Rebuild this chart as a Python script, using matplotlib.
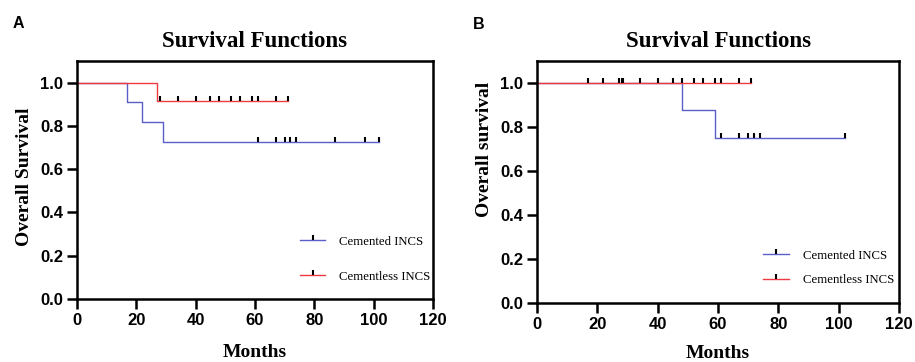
import matplotlib.pyplot as plt
from matplotlib.path import Path
from matplotlib.lines import Line2D

# panel A
a_cem_t = [0, 17, 22, 29, 102]
a_cem_s = [1.0, 0.909, 0.818, 0.727, 0.727]
a_cem_cens = [61, 67, 70, 72, 74, 87, 97, 102]
a_cml_t = [0, 27, 71]
a_cml_s = [1.0, 0.917, 0.917]
a_cml_cens = [28, 34, 40, 45, 48, 52, 55, 59, 61, 67, 71]

# panel B
b_cem_t = [0, 48, 59, 102]
b_cem_s = [1.0, 0.875, 0.75, 0.75]
b_cem_cens = [61, 67, 70, 72, 74, 102]
b_cml_t = [0, 71]
b_cml_s = [1.0, 1.0]
b_cml_cens = [17, 22, 27, 28, 28.5, 34, 40, 45, 48, 52, 55, 59, 61, 67, 71]

blue = '#5a5ec8'
red = '#ee3a40'
tick_mark = Path([(0, 0), (0, 1)])
serif = 'Liberation Serif'

plt.rcParams['font.family'] = 'Liberation Sans'
fig = plt.figure(figsize=(9.15, 3.62), dpi=100)
axA = fig.add_axes([0.0842, 0.174, 0.3888, 0.6575])
axB = fig.add_axes([0.587, 0.163, 0.3955, 0.6685])


def km(ax, t, s, cens, color):
    ax.step(t, s, where='post', color=color, lw=1.0, zorder=2)
    cy = [s[max(i for i in range(len(t)) if t[i] <= c)] for c in cens]
    ax.plot(cens, cy, ls='none', marker=tick_mark, ms=7.5, mew=1.5, color='black', zorder=3)


def style(ax, ylab, ylab_xy, xlab_y, leg_xy, leg_sp):
    ax.set_xlim(0, 120)
    ax.set_ylim(0, 1.1)
    ax.set_xticks(range(0, 121, 20))
    ax.set_yticks([0, 0.2, 0.4, 0.6, 0.8, 1.0])
    ax.set_yticklabels(['0.0', '0.2', '0.4', '0.6', '0.8', '1.0'])
    for sp in ax.spines.values():
        sp.set_linewidth(1.8)
    ax.tick_params(direction='out', length=7, width=1.8, labelsize=12, pad=3)
    for lab in ax.get_xticklabels() + ax.get_yticklabels():
        lab.set_fontweight('bold')
    ax.set_title('Survival Functions', fontfamily=serif, fontweight='bold', fontsize=16.5, pad=10)
    ax.set_xlabel('Months', fontfamily=serif, fontweight='bold', fontsize=14, va='baseline')
    ax.xaxis.set_label_coords(0.5, xlab_y)
    ax.set_ylabel(ylab, fontfamily=serif, fontweight='bold', fontsize=14, va='baseline')
    ax.yaxis.set_label_coords(ylab_xy[0], ylab_xy[1])
    h1 = Line2D([], [], color=blue, lw=1.0, marker=tick_mark, ms=7.5, mew=1.5, mec='black')
    h2 = Line2D([], [], color=red, lw=1.0, marker=tick_mark, ms=7.5, mew=1.5, mec='black')
    ax.legend([h1, h2], ['Cemented INCS', 'Cementless INCS'], loc='center', bbox_to_anchor=leg_xy,
              frameon=False, prop={'family': serif, 'size': 9.2},
              labelspacing=leg_sp, handlelength=2.0, handletextpad=1.1, borderpad=0)


km(axA, a_cem_t, a_cem_s, a_cem_cens, blue)
km(axA, a_cml_t, a_cml_s, a_cml_cens, red)
style(axA, 'Overall Survival', (-0.135, 0.513), -0.244, (0.81, 0.168), 1.8)

km(axB, b_cem_t, b_cem_s, b_cem_cens, blue)
km(axB, b_cml_t, b_cml_s, b_cml_cens, red)
style(axB, 'Overall survival', (-0.133, 0.636), -0.227, (0.805, 0.145), 1.0)

fig.text(0.0139, 0.9227, 'A', fontsize=11.5, fontweight='bold')
fig.text(0.517, 0.92, 'B', fontsize=11.5, fontweight='bold')

fig.savefig('out.png', dpi=100)
